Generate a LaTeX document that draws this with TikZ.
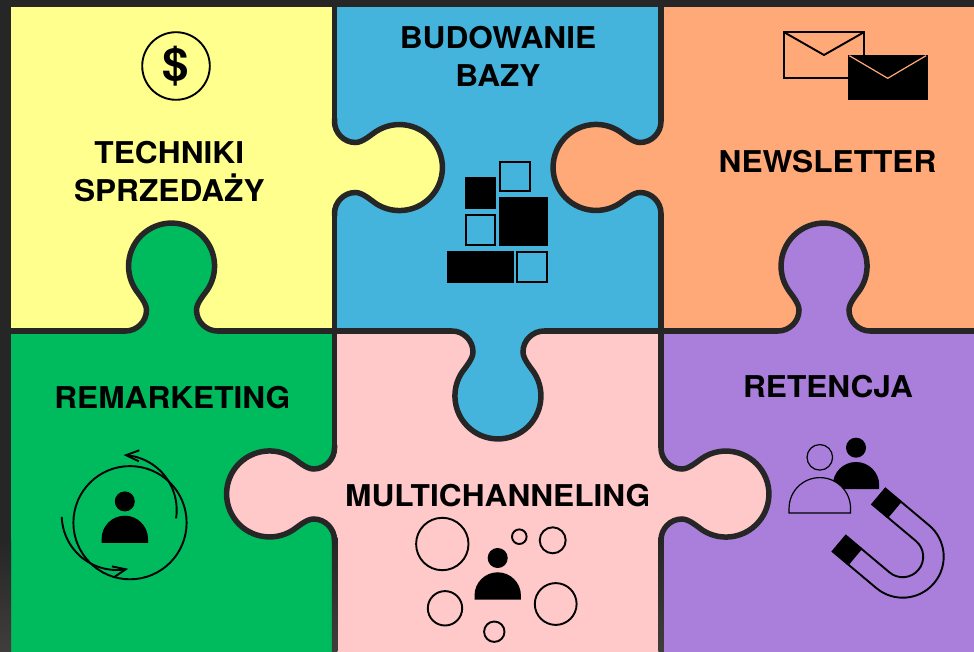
\documentclass[tikz,border=0pt]{standalone}
\usepackage{fontspec}
\setmainfont{TeX Gyre Heros}[FakeStretch=1.055]
\usetikzlibrary{arrows.meta,bending}
\definecolor{framedark}{HTML}{262626}
\definecolor{framelight}{HTML}{403E3D}
\definecolor{yellowpiece}{HTML}{FFFF8E}
\definecolor{bluepiece}{HTML}{45B4DD}
\definecolor{orangepiece}{HTML}{FFA878}
\definecolor{greenpiece}{HTML}{00BA5E}
\definecolor{pinkpiece}{HTML}{FFC8C9}
\definecolor{purplepiece}{HTML}{A97FDB}
\tikzset{
    edge/.style={draw=framedark,line width=5.5pt},
    icon/.style={draw=black,line width=1.9pt},
    title/.style={font=\bfseries\fontsize{30}{38}\selectfont,text=black,align=center,inner sep=0pt},
    fade/.style={top color=framedark,bottom color=framelight},
    barb/.style={-{Straight Barb[length=13pt,width=11pt,flex=1]}},
    pics/knob/.style={code={
        \fill[#1] (-46,-1) -- (-46,0) .. controls (-35,0) and (-25,9) .. (-25,21)
            .. controls (-25,28) and (-32.7,36.5) .. (-36,41.5)
            arc[start angle=213,end angle=-33,radius=43]
            .. controls (32.7,36.5) and (25,28) .. (25,21)
            .. controls (25,9) and (35,0) .. (46,0) -- (46,-1) -- cycle;
        \draw[edge] (-49,0) -- (-46,0) .. controls (-35,0) and (-25,9) .. (-25,21)
            .. controls (-25,28) and (-32.7,36.5) .. (-36,41.5)
            arc[start angle=213,end angle=-33,radius=43]
            .. controls (32.7,36.5) and (25,28) .. (25,21)
            .. controls (25,9) and (35,0) .. (46,0) -- (49,0);
    }},
    pics/person/.style={code={
        \draw[icon,line width=1.2pt,fill=#1] (-22.6,0.4) -- (-22.6,3.8) arc[start angle=180,end angle=0,radius=22.6] -- (22.6,0.4) -- cycle;
        \draw[icon,line width=1.2pt,fill=#1] (0,41.3) circle (9.4);
    }},
    pics/magnet/.style={code={
        \draw[icon] (37,-41) -- (0,-41) arc[start angle=-90,end angle=-270,radius=41] -- (37,41)
            -- (37,20.5) -- (0,20.5) arc[start angle=90,end angle=270,radius=20.5] -- (37,-20.5) -- cycle;
        \fill[black] (37,-42) rectangle (58,-19.5);
        \fill[black] (37,19.5) rectangle (58,42);
    }}
}
\begin{document}
\begin{tikzpicture}[x=1pt,y=1pt]
\useasboundingbox (0,0) rectangle (974,-652);
% pieces
\fill[yellowpiece] (0,0) rectangle (334.5,-331);
\fill[bluepiece] (334.5,0) rectangle (661,-331);
\fill[orangepiece] (661,0) rectangle (974,-331);
\fill[greenpiece] (0,-331) rectangle (334.5,-652);
\fill[pinkpiece] (334.5,-331) rectangle (661,-652);
\fill[purplepiece] (661,-331) rectangle (974,-652);
% frame
\fill[framedark] (0,0) rectangle (974,-7);
\fill[framedark] (0,0) rectangle (11,-540);
\shade[fade] (0,-540) rectangle (11,-652);
% joints between the pieces
\foreach \a/\b in {11/125.5,217.5/452,544/778,870/974} {
    \draw[edge] (\a,-331) -- (\b,-331);
}
\foreach \c in {334.5,661} {
    \draw[edge] (\c,-4) -- (\c,-121.5);
    \draw[edge] (\c,-213.5) -- (\c,-331);
    \draw[edge] (\c,-331) -- (\c,-448);
    \shade[fade] (\c-2.75,-537) rectangle (\c+2.75,-652);
}
% tabs
\pic at (171.5,-331) {knob=greenpiece};
\pic at (824,-331) {knob=purplepiece};
\pic[rotate=180] at (498,-331) {knob=bluepiece};
\pic[rotate=-90] at (334.5,-167.5) {knob=yellowpiece};
\pic[rotate=90] at (661,-167.5) {knob=orangepiece};
\pic[rotate=90] at (334.5,-494) {knob=pinkpiece};
\pic[rotate=-90] at (661,-494) {knob=pinkpiece};
% titles
\node[title] (techniki) at (169.3,-172) {TECHNIKI\\SPRZEDAŻY};
\node[title] (budowanie) at (498,-56.5) {BUDOWANIE\\BAZY};
\node[title,anchor=base] (newsletter) at (827.5,-172.7) {NEWSLETTER};
\node[title,anchor=base] (retencja) at (828,-397.7) {RETENCJA};
\node[title,anchor=base] (remarketing) at (172.3,-408.3) {REMARKETING};
\node[title,anchor=base] (multichanneling) at (497.7,-506.7) {MULTICHANNELING};
% dollar
\draw[icon] (176,-66) circle (33.8);
\node[font=\bfseries\fontsize{45}{45}\selectfont,inner sep=0pt] (dollar) at (176,-66) {\$};
% blocks
\foreach \xa/\ya/\xb/\yb in {500.3/-161.7/529.7/-190.7,465.7/-215.3/495.3/-245,517.3/-252.3/547/-282.3} {
    \draw[icon] (\xa,\ya) rectangle (\xb,\yb);
}
\foreach \xa/\ya/\xb/\yb in {464.7/-176.7/496.3/-208.7,499.3/-197/548/-246,447.3/-251.3/513.7/-283.3} {
    \fill[black] (\xa,\ya) rectangle (\xb,\yb);
}
% letters
\draw[icon] (784.4,-32.4) rectangle (863.6,-77.6);
\draw[icon] (784.4,-32.4) -- (824,-55) -- (863.6,-32.4);
\fill[black] (847.7,-55) rectangle (927.7,-100);
\draw[orangepiece,line width=1.2pt] (849.3,-55.7) -- (887.7,-78.3) -- (926,-55.7);
% people
\pic at (124.8,-542.7) {person=black};
\pic at (497.7,-599.3) {person=black};
\pic at (856,-489) {person=black};
\pic[scale=1.36] at (819.8,-513.5) {person=purplepiece};
% magnet
\pic[rotate=140] at (902.7,-556.7) {magnet};
% remarketing arrows
\draw[icon] (130,-522.7) circle (56.6);
\draw[icon,barb] (121.7,-510) ++(-8.7:55) arc[start angle=-8.7,end angle=88,radius=55];
\draw[icon,barb] (116.7,-515) ++(182:55) arc[start angle=182,end angle=282,radius=55];
% channels
\foreach \x/\y/\r in {442.3/-544/26.2,519.3/-536.7/7.3,552.7/-540.3/13,445/-608.3/17.2,555.7/-604/20.9,494.3/-631.7/10.2} {
    \draw[icon] (\x,\y) circle (\r);
}
\end{tikzpicture}
\end{document}
